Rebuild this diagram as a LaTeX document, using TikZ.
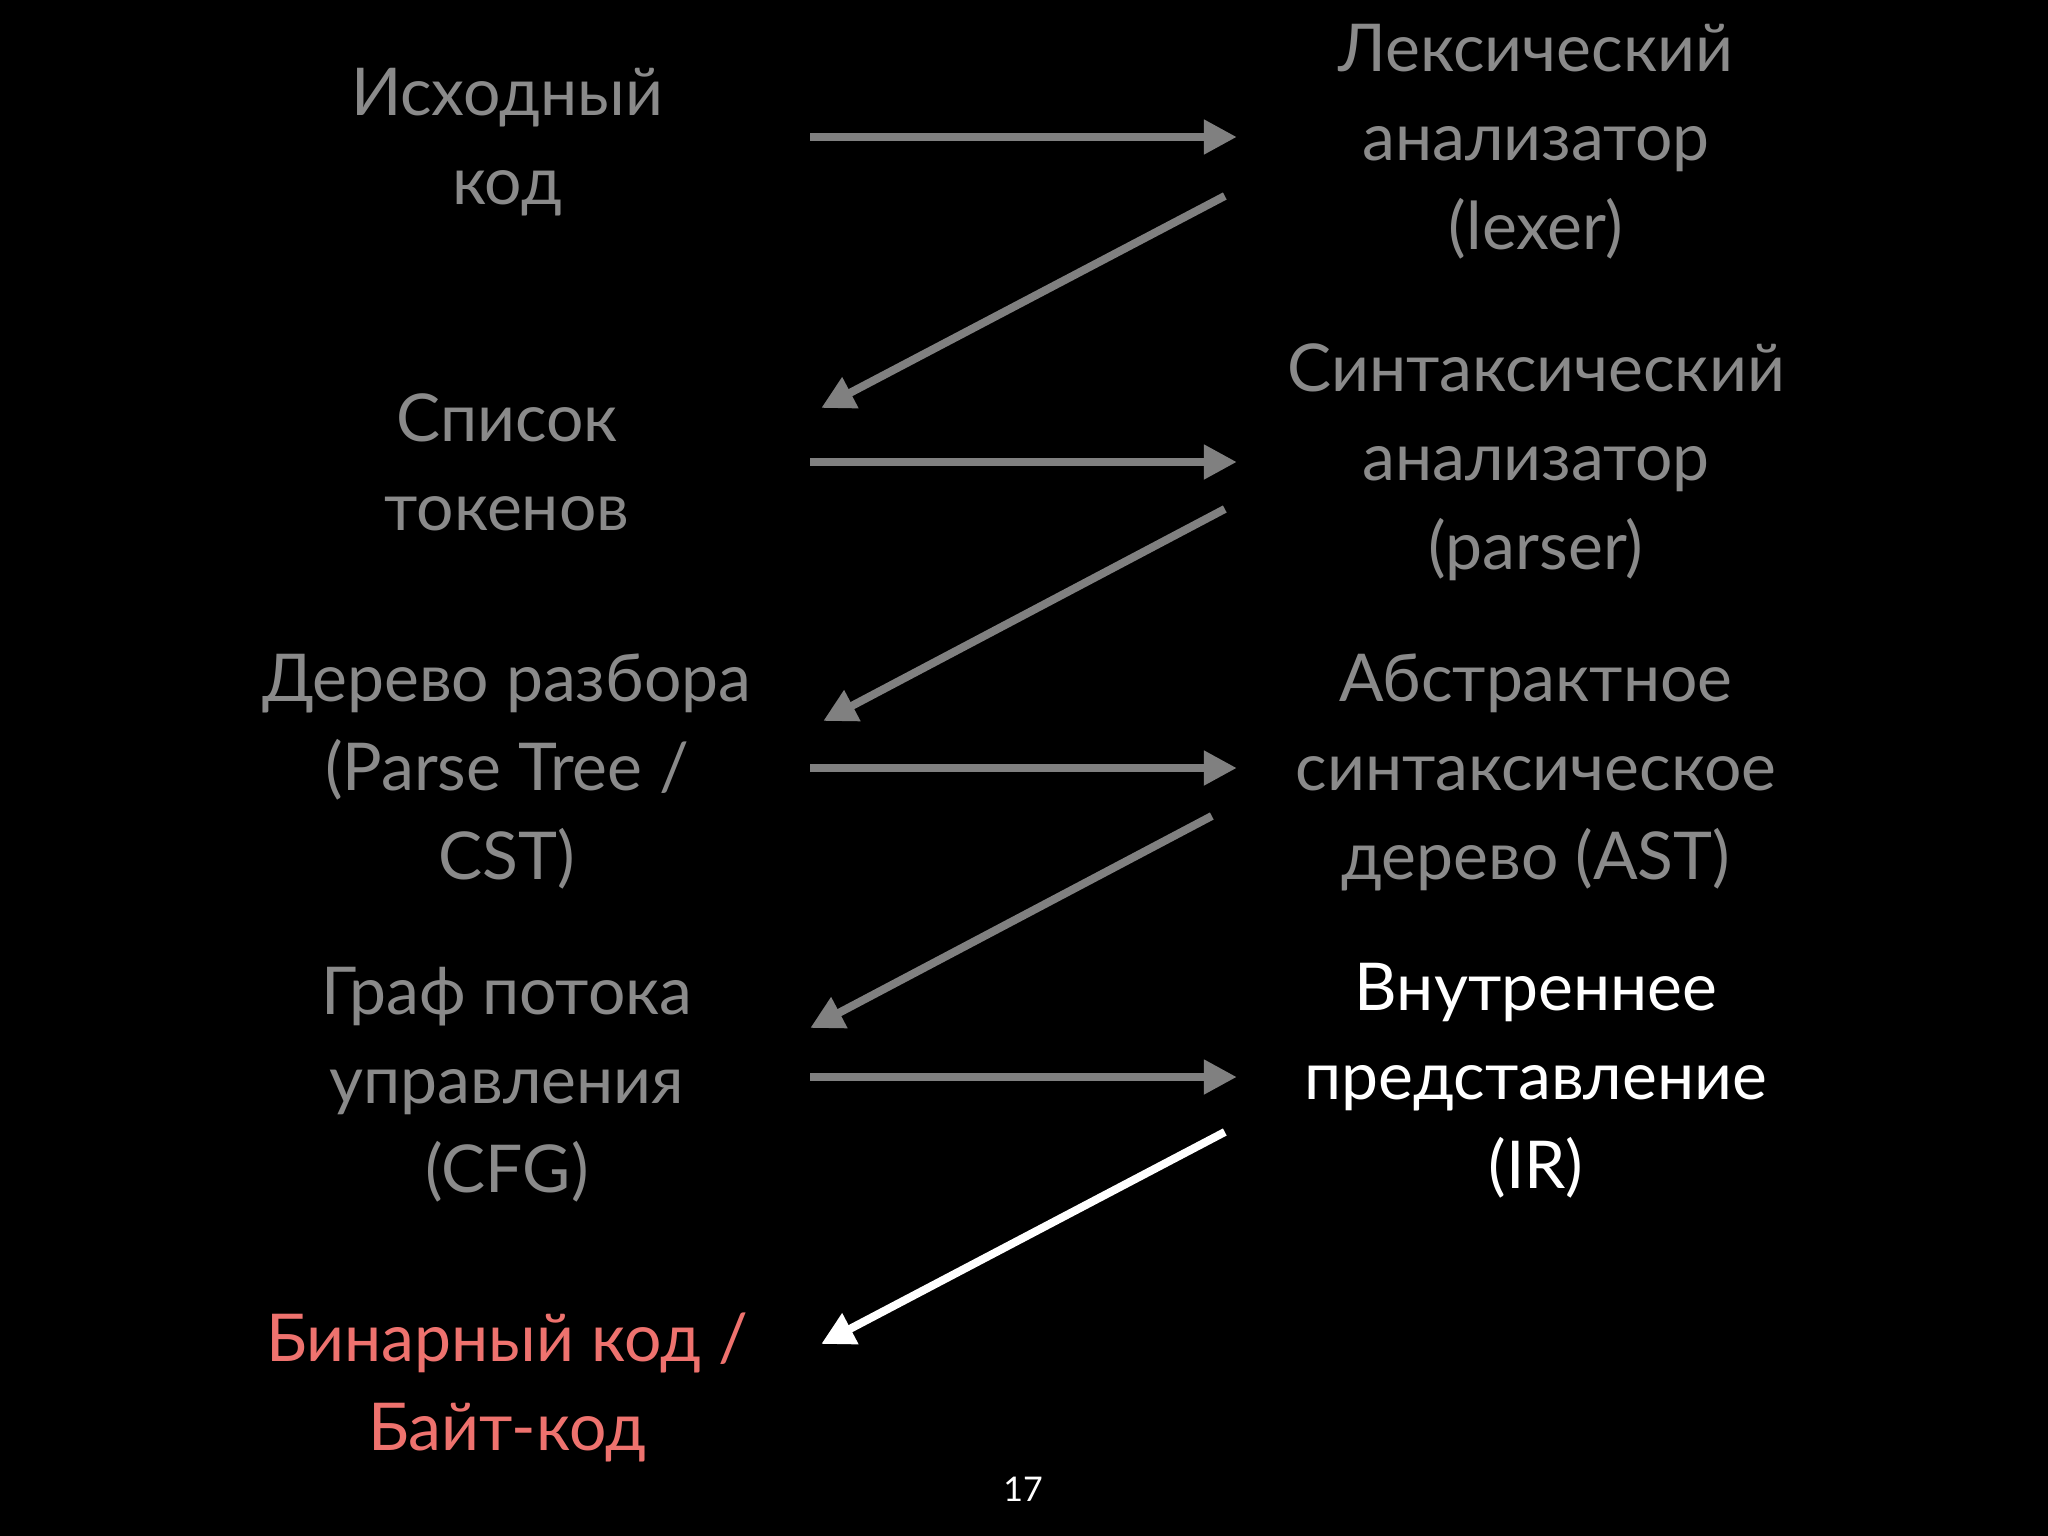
\documentclass[tikz,border=0pt]{standalone}
\usepackage{fontspec}
\setmainfont{Lato}
\usepackage{xcolor}
\usetikzlibrary{arrows.meta,positioning,calc}
\definecolor{txtgray}{HTML}{8A8A8A}
\definecolor{arrgray}{HTML}{808080}
\definecolor{binred}{HTML}{EE726E}
\tikzset{
  stage/.style = {align=flush center, inner sep=0pt, text=txtgray,
    font=\fontsize{66}{89}\selectfont},
  lstage/.style = {stage, text width=606pt},
  rstage/.style = {stage, text width=598pt},
  flow/.style = {-{Triangle[length=33pt,width=33pt]}, line width=8pt, draw=arrgray},
}

\begin{document}
\begin{tikzpicture}[x = 1pt, y = -1pt]
\fill[black] (0,0) rectangle (2048,1536);
\node[lstage] (src) at (507, 142) {Исходный\\код};
\node[lstage] (tok) at (507, 462) {Список\\токенов};
\node[lstage] (cst) at (507, 772) {Дерево разбора\\(Parse Tree /\\CST)};
\node[lstage] (cfg) at (507, 1085) {Граф потока\\управления\\(CFG)};
\node[lstage, text=binred] (bin) at (507, 1387) {Бинарный код /\\Байт-код};
\node[rstage] (lex) at (1536, 142) {Лексический\\анализатор\\(lexer)};
\node[rstage] (par) at (1536, 462) {Синтаксический\\анализатор\\(parser)};
\node[rstage] (ast) at (1536, 772) {Абстрактное\\синтаксическое\\дерево (AST)};
\node[rstage, text=white] (ir) at (1536, 1081) {Внутреннее\\представление\\(IR)};
\node[text=white, font=\fontsize{34}{40}\selectfont] (page) at (1023, 1489) {17};
% forward steps
\draw[flow] ($(src.east)+(0,-5)$) -- ($(lex.west)+(0,-5)$);
\draw[flow] (tok.east) -- (par.west);
\draw[flow] ($(cst.east)+(0,-4)$) -- ($(ast.west)+(0,-4)$);
\draw[flow] ($(cfg.east)+(0,-8)$) -- ($(ir.west)+(0,-4)$);
% results
\draw[flow] ($(lex.west)+(-12,54)$) -- ($(tok.east)+(11,-54)$);
\draw[flow] ($(par.west)+(-12,47)$) -- ($(cst.east)+(13,-51)$);
\draw[flow] ($(ast.west)+(-25,44)$) -- ($(cfg.east)+(0,-57)$);
\draw[flow, draw=white] ($(ir.west)+(-12,51)$) -- ($(bin.east)+(11,-43)$);
\end{tikzpicture}
\end{document}
